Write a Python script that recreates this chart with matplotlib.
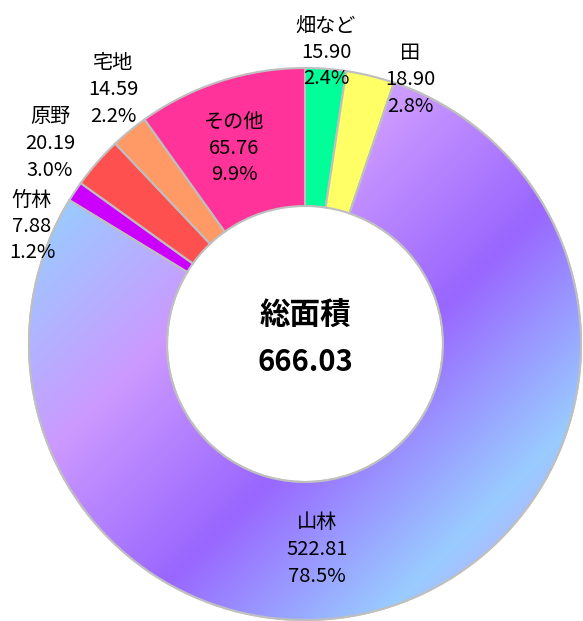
import numpy as np
import matplotlib
matplotlib.use("Agg")
import matplotlib.pyplot as plt
from matplotlib.colors import LinearSegmentedColormap
from matplotlib.patches import Wedge

plt.rcParams['font.family'] = ['Noto Sans CJK JP', 'DejaVu Sans']

categories = ["畑など", "田", "山林", "竹林", "原野", "宅地", "その他"]
values = [15.90, 18.90, 522.81, 7.88, 20.19, 14.59, 65.76]
total_label = "総面積"
total_value = 666.03
colors = ["#00FF99", "#FFFF66", "#B38CFF", "#CC00FF", "#FF5050", "#FF9966", "#FF3399"]

W, H = 583, 621
CX, CY, R = 305, 344, 276  # pixel geometry of the donut

fig = plt.figure(figsize=(W / 100, H / 100), dpi=100)
ax = fig.add_axes([0, 0, 1, 1])
ax.axis('off')

wedges, _ = ax.pie(values, colors=colors, startangle=90, counterclock=False,
                   radius=1.0, wedgeprops=dict(width=0.5, edgecolor="#BFBFBF", linewidth=1.5))
ax.set_xlim(-CX / R, (W - CX) / R)
ax.set_ylim(-(H - CY) / R, CY / R)
ax.set_aspect('auto')

# gradient fill for 山林
cmap = LinearSegmentedColormap.from_list(
    "grad", [(0.0, "#99CCFF"), (0.31, "#CC99FF"), (0.63, "#9966FF"), (0.95, "#99CCFF"), (1.0, "#A6C0FF")])
xs = np.linspace(-1.0, 1.0, 600)
ys = np.linspace(-1.0, 1.0, 600)
Xg, Yg = np.meshgrid(xs, ys)
U = (Xg - Yg + np.sqrt(2)) / (2 * np.sqrt(2))
im = ax.imshow(U, cmap=cmap, vmin=0, vmax=1, extent=(-1, 1, -1, 1), origin='lower',
               interpolation='bilinear', zorder=wedges[2].get_zorder() + 0.1)
im.set_clip_path(wedges[2])
w2 = wedges[2]
edge = Wedge(w2.center, w2.r, w2.theta1, w2.theta2, width=w2.width, facecolor='none',
             edgecolor="#BFBFBF", linewidth=1.5, zorder=im.get_zorder() + 0.1)
ax.add_patch(edge)
ax.set_xlim(-CX / R, (W - CX) / R)
ax.set_ylim(-(H - CY) / R, CY / R)
ax.set_aspect('auto')

pct = [v / total_value * 100 for v in values]

def px2d(px, py):
    return (px - CX) / R, (CY - py) / R

label_pos = {
    "畑など": (326, 26), "田": (410, 53), "山林": (317, 523), "竹林": (32, 200),
    "原野": (50, 117), "宅地": (113, 63), "その他": (234, 122),
}
fs = 14.5
for cat, v, p in zip(categories, values, pct):
    lx, ly = label_pos[cat]
    for i, t in enumerate([cat, f"{v:.2f}", f"{p:.1f}%"]):
        x, y = px2d(lx, ly + i * 26.5)
        ax.text(x, y, t, ha='center', va='center', fontsize=fs, color='black', zorder=10)

x, y = px2d(305, 316)
ax.text(x, y, total_label, ha='center', va='center', fontsize=22, fontweight='bold', zorder=10)
x, y = px2d(305, 362)
ax.text(x, y, f"{total_value:.2f}", ha='center', va='center', fontsize=21, fontweight='bold', zorder=10)

fig.savefig("out.png", dpi=100)
